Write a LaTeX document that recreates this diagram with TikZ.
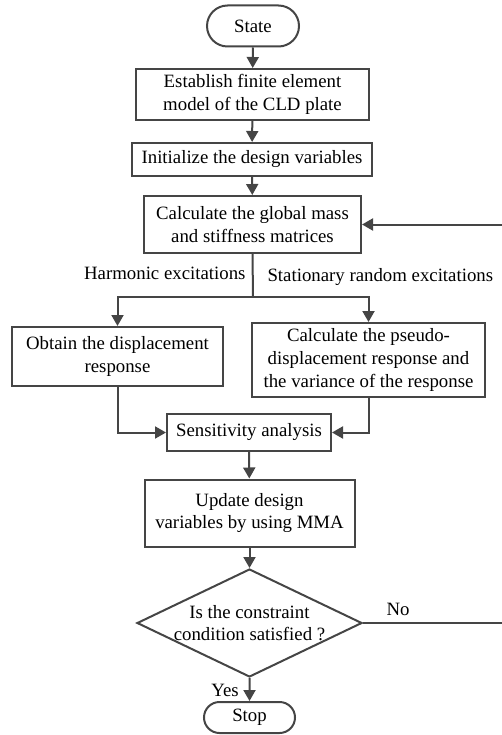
\documentclass[tikz,border=0pt]{standalone}
\usepackage{fontspec}
\setmainfont{Liberation Serif}
\usetikzlibrary{arrows.meta,shapes.geometric,shapes.misc}
\definecolor{linegray}{HTML}{454545}
\begin{document}
\begin{tikzpicture}[x=1pt,y=-1pt,font=\fontsize{18.8}{22.7}\selectfont,
    line/.style={draw=linegray,line width=2pt},
    arr/.style={line,-{Triangle[length=11pt,width=12pt]}},
    proc/.style={draw=linegray,line width=2pt,inner sep=0pt,align=center},
    term/.style={proc,rounded rectangle},
    decision/.style={proc,diamond,minimum width=225pt,minimum height=108pt}]
  \useasboundingbox (0,0) rectangle (502,735);
  % main column
  \node[term,minimum width=92pt,minimum height=41pt] (state) at (253,26) {State};
  \node[proc,minimum width=233pt,minimum height=51pt] (model) at (252.5,94.5) {Establish finite element\\model of the CLD plate};
  \node[proc,minimum width=240pt,minimum height=33pt] (init) at (252,159.5) {Initialize the design variables};
  \node[proc,minimum width=217pt,minimum height=57pt] (global) at (252.5,224.5) {Calculate the global mass\\and stiffness matrices};
  \node[proc,minimum width=211pt,minimum height=59pt] (disp) at (117.5,356.5) {Obtain the displacement\\response};
  \node[proc,minimum width=233pt,minimum height=74pt] (pseudo) at (368.5,360) {Calculate the pseudo-\\displacement response and\\the variance of the response};
  \node[proc,minimum width=164pt,minimum height=37pt] (sens) at (249,432.5) {Sensitivity analysis};
  \node[proc,minimum width=210pt,minimum height=67pt] (mma) at (249.5,513) {Update design\\variables by using MMA};
  \node[decision,label={[align=center]center:Is the constraint\\condition satisfied ?}] (cond) at (249.5,623) {};
  \node[term,minimum width=91pt,minimum height=31pt] (stop) at (249.5,717.5) {Stop};
  % branch labels
  \node[anchor=east] (harm) at (249,273) {Harmonic excitations};
  \node[anchor=west] (rand) at (264,277) {Stationary random excitations};
  \node (no) at (398,609) {No};
  \node (yes) at (225,690) {Yes};
  \coordinate (split) at (253,297);
  \coordinate (loop) at (503,0);
  % connectors
  \foreach \a/\b in {state/model,model/init,init/global,sens/mma,mma/cond,cond/stop}
    {\draw[arr] (\a) -- (\b);}
  \draw[line] (global.south) -- (split);
  \draw[arr] (split) -| (disp.north);
  \draw[arr] (split) -| (pseudo.north);
  \draw[arr] (disp.south) |- (sens.west);
  \draw[arr] (pseudo.south) |- (sens.east);
  \draw[arr] (cond.east) -- (cond.east -| loop) |- (global.east);
\end{tikzpicture}
\end{document}
